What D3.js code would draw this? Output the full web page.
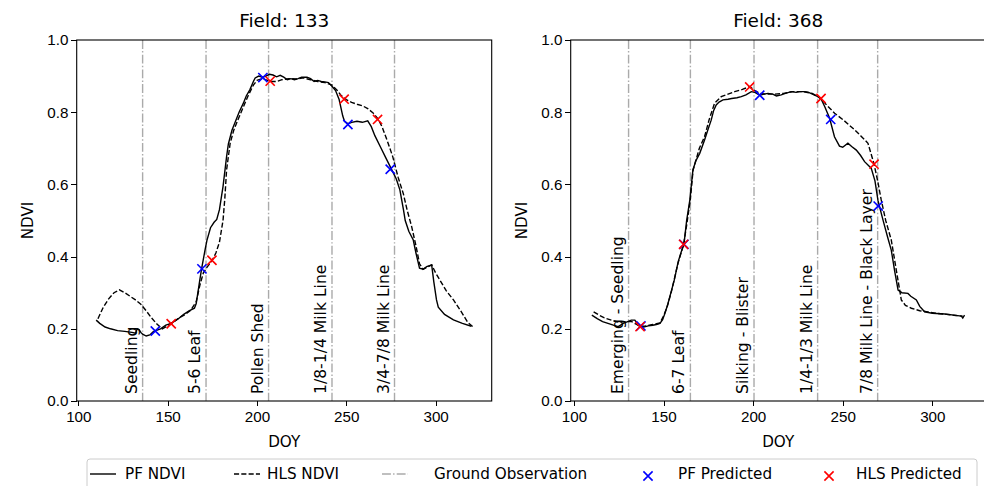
<!DOCTYPE html>
<html>
  <head>
    <meta charset="utf-8">
    <title>NDVI by field</title>
    <script src="https://d3js.org/d3.v7.min.js"></script>
    <style>
      body { margin: 0; background: #fff; }
      svg { font-family: "DejaVu Sans", sans-serif; }
      .axis path, .axis line { stroke: #000; shape-rendering: crispEdges; }
      .axis text { font-size: 15.2px; fill: #000; }
    </style>
  </head>
  <body>
    <svg id="chart" width="984" height="486"></svg>
    <script>
      // ---- data: [DOY, NDVI]
      const pf133 = [
        [110,0.224],[112,0.215],[115,0.205],[118,0.2],[122,0.195],[126,0.193],[130,0.19],[132,0.188],
        [133,0.2],[134,0.198],[135,0.19],[136,0.185],[138,0.18],[140,0.183],[142,0.192],[143,0.194],
        [146,0.2],[149,0.21],[152,0.215],[156,0.228],[159,0.24],[162,0.25],[165,0.257],[166,0.27],
        [168,0.335],[169,0.366],[171,0.42],[172,0.445],[174,0.48],[176,0.495],[177.5,0.503],[179,0.53],
        [181,0.594],[183,0.677],[184,0.712],[186,0.75],[188,0.775],[190,0.8],[192.4,0.825],[194,0.845],
        [196,0.862],[198,0.885],[199,0.895],[201,0.9],[203,0.897],[205,0.9],[207,0.905],[209,0.903],
        [211,0.898],[213,0.902],[215,0.897],[217,0.89],[219,0.893],[221,0.89],[223,0.893],[225,0.897],
        [228,0.897],[230,0.893],[232,0.885],[234,0.888],[236,0.885],[238,0.884],[240,0.882],[242,0.872],
        [244,0.86],[246,0.835],[248,0.79],[249,0.775],[251,0.768],[253,0.772],[256,0.775],[259,0.772],
        [262,0.776],[264,0.76],[266,0.735],[269,0.705],[272,0.675],[275,0.645],[278,0.615],[280,0.585],
        [282,0.53],[283,0.5],[285,0.47],[287.5,0.446],[289,0.41],[291,0.368],[293,0.365],[295,0.372],
        [297.8,0.377],[299,0.33],[300.5,0.28],[301.5,0.26],[305,0.24],[310,0.225],[315,0.215],[320,0.207]
      ];
      const hls133 = [
        [111,0.228],[114,0.26],[117,0.283],[120,0.3],[123,0.308],[126,0.3],[129,0.29],[132,0.28],
        [135,0.268],[138,0.25],[141,0.23],[144,0.213],[147,0.2],[150,0.208],[153,0.218],[157,0.232],
        [160,0.24],[163,0.252],[166,0.275],[168,0.32],[170,0.355],[172,0.37],[175,0.39],[177,0.41],
        [179,0.44],[180,0.47],[181,0.5],[182,0.56],[183,0.64],[185,0.714],[187,0.75],[189,0.775],
        [192,0.81],[195,0.845],[198,0.875],[200,0.888],[203,0.893],[206,0.888],[208,0.885],[211,0.885],
        [214,0.89],[218,0.893],[222,0.892],[226,0.895],[230,0.89],[234,0.885],[238,0.882],[242,0.875],
        [245,0.86],[247,0.847],[250,0.835],[253,0.827],[256,0.822],[259,0.818],[262,0.81],[265,0.798],
        [268,0.78],[270,0.76],[273,0.72],[276,0.677],[279,0.62],[282,0.573],[284,0.53],[286.6,0.483],
        [289,0.43],[291,0.38],[293,0.365],[295,0.37],[297.8,0.377],[300,0.355],[302.4,0.335],[306,0.305],
        [310,0.28],[314,0.25],[318,0.218],[321,0.205]
      ];
      const pf368 = [
        [110,0.238],[113,0.228],[116,0.22],[119,0.215],[122,0.21],[124.7,0.206],[126,0.21],[127.5,0.215],
        [130,0.22],[132,0.224],[134,0.224],[136,0.21],[137.4,0.207],[139,0.205],[141.5,0.208],[144,0.21],
        [146,0.212],[148,0.215],[149.5,0.225],[150.8,0.243],[152.5,0.27],[154.5,0.307],[156,0.335],[158.2,0.386],
        [160,0.415],[161.4,0.434],[162.9,0.5],[164.7,0.557],[166.4,0.64],[168,0.665],[170.2,0.686],[172.9,0.723],
        [175,0.755],[176.6,0.778],[178,0.805],[179.4,0.82],[181,0.828],[183.2,0.834],[186,0.836],[188,0.838],
        [191,0.84],[193.4,0.843],[196,0.848],[199,0.857],[201,0.855],[203.7,0.847],[206,0.85],[208.3,0.852],
        [211,0.85],[213,0.845],[215.7,0.848],[218,0.852],[221.3,0.857],[224,0.855],[226,0.857],[228.8,0.857],
        [231,0.855],[234,0.848],[236.2,0.843],[238,0.836],[240,0.815],[242.7,0.783],[245.4,0.732],[248.2,0.706],
        [250,0.703],[252.9,0.714],[255,0.705],[257.6,0.695],[260,0.68],[262.2,0.663],[265.9,0.645],[268,0.61],
        [269.7,0.555],[272.5,0.501],[275,0.455],[277.1,0.418],[279,0.36],[280.9,0.307],[283,0.3],[286.4,0.298],
        [288,0.29],[291.1,0.28],[293,0.262],[295.7,0.247],[300,0.243],[306.9,0.241],[312,0.238],[316.2,0.235],
        [317,0.23],[318,0.238]
      ];
      const hls368 = [
        [111,0.247],[114,0.238],[117,0.23],[121,0.224],[125,0.218],[128,0.22],[132.2,0.22],[135,0.212],
        [137,0.206],[140,0.208],[144,0.212],[148,0.216],[150,0.235],[152,0.26],[154.5,0.305],[158,0.38],
        [161.2,0.434],[163,0.49],[165,0.56],[166.5,0.64],[170,0.7],[172.9,0.732],[175.5,0.78],[178.5,0.825],
        [182.2,0.843],[186,0.85],[189.7,0.857],[194,0.863],[198.1,0.871],[201,0.86],[203.6,0.852],[207,0.85],
        [212,0.85],[217,0.852],[222,0.857],[228,0.857],[233,0.852],[237.9,0.838],[241,0.82],[245.5,0.797],
        [250,0.78],[256.7,0.751],[260,0.735],[264.1,0.714],[267.4,0.658],[269.5,0.61],[271.5,0.557],[274,0.5],
        [277.1,0.446],[280,0.36],[282.7,0.28],[285,0.265],[288.3,0.257],[293,0.25],[297.6,0.247],[302,0.243],
        [308,0.24],[313,0.237],[317,0.235]
      ];

      const pfPred133 = [[143.1,0.194],[169.2,0.366],[203.3,0.896],[250.9,0.766],[274.6,0.642]];
      const hlsPred133 = [[152,0.214],[174.8,0.39],[207.4,0.886],[248.8,0.836],[267.5,0.78]];
      const pfPred368 = [[137.4,0.208],[161.4,0.434],[203.7,0.847],[243.3,0.78],[269.8,0.54]];
      const hlsPred368 = [[136.9,0.206],[161.2,0.434],[198.1,0.87],[237.9,0.838],[267.5,0.656]];

      const stages133 = ["Seedling", "5-6 Leaf", "Pollen Shed", "1/8-1/4 Milk Line", "3/4-7/8 Milk Line"];
      const stageDoy133 = [136, 171.5, 206.5, 242, 277];
      const stages368 = ["Emerging - Seedling", "6-7 Leaf", "Silking - Blister", "1/4-1/3 Milk Line", "7/8 Milk Line - Black Layer"];
      const stageDoy368 = [130.5, 165, 200.5, 236, 269.5];

      const xTicks = [100, 150, 200, 250, 300];
      const yTicks = [0.0, 0.2, 0.4, 0.6, 0.8, 1.0];

      const svg = d3.select("#chart");
      const plotTop = 40, plotBottom = 401;
      const cross = "M-4.6,-4.6L4.6,4.6M-4.6,4.6L4.6,-4.6";

      function drawPanel(opt) {
        const g = svg.append("g");
        const x = d3.scaleLinear().domain(opt.xDomain).range([opt.left, opt.right]);
        const y = d3.scaleLinear().domain([0, 1]).range([plotBottom, plotTop]);

        // ground observation lines + stage names
        opt.stageDoy.forEach((d, i) => {
          g.append("line")
            .attr("x1", x(d)).attr("x2", x(d))
            .attr("y1", plotTop).attr("y2", plotBottom)
            .attr("stroke", "#aaaaaa").attr("stroke-width", 1.4)
            .attr("stroke-dasharray", "8.9,2.2,1.4,2.2");
          g.append("text")
            .attr("transform", "translate(" + (x(d) - 6) + "," + (plotBottom - 7) + ") rotate(-90)")
            .attr("font-size", "15.6px")
            .text(opt.stages[i]);
        });

        const line = d3.line().x(d => x(d[0])).y(d => y(d[1]));
        g.append("path").datum(opt.pf)
          .attr("fill", "none").attr("stroke", "#000").attr("stroke-width", 1.4)
          .attr("d", line);
        g.append("path").datum(opt.hls)
          .attr("fill", "none").attr("stroke", "#000").attr("stroke-width", 1.4)
          .attr("stroke-dasharray", "5.1,2.2")
          .attr("d", line);

        [[opt.pfPred, "#0000ff"], [opt.hlsPred, "#ff0000"]].forEach(([pts, c]) => {
          g.selectAll(null).data(pts).enter().append("path")
            .attr("d", cross)
            .attr("transform", d => "translate(" + x(d[0]) + "," + y(d[1]) + ")")
            .attr("stroke", c).attr("stroke-width", 1.6).attr("fill", "none");
        });

        // axes
        g.append("g").attr("class", "axis")
          .attr("transform", "translate(0," + plotBottom + ")")
          .call(d3.axisBottom(x).tickValues(xTicks).tickSize(5.3).tickSizeOuter(0).tickPadding(4.5))
          .call(a => a.select(".domain").remove());
        g.append("g").attr("class", "axis")
          .attr("transform", "translate(" + opt.left + ",0)")
          .call(d3.axisLeft(y).tickValues(yTicks).tickFormat(d3.format(".1f")).tickSize(5.3).tickSizeOuter(0).tickPadding(3))
          .call(a => a.select(".domain").remove());

        g.append("rect")
          .attr("x", opt.left).attr("y", plotTop)
          .attr("width", opt.right - opt.left).attr("height", plotBottom - plotTop)
          .attr("fill", "none").attr("stroke", "#000").attr("stroke-width", 1.1);

        g.append("text")
          .attr("x", (opt.left + opt.right) / 2).attr("y", 27)
          .attr("text-anchor", "middle").attr("font-size", "18.5px")
          .text(opt.title);
        g.append("text")
          .attr("x", (opt.left + opt.right) / 2).attr("y", 447)
          .attr("text-anchor", "middle").attr("font-size", "15.2px")
          .text("DOY");
        g.append("text")
          .attr("transform", "translate(" + (opt.left - 44) + "," + ((plotTop + plotBottom) / 2) + ") rotate(-90)")
          .attr("text-anchor", "middle").attr("font-size", "15.2px")
          .text("NDVI");
      }

      drawPanel({
        title: "Field: 133", left: 76.7, right: 491.7, xDomain: [99.1, 331.4],
        pf: pf133, hls: hls133, pfPred: pfPred133, hlsPred: hlsPred133,
        stages: stages133, stageDoy: stageDoy133
      });
      drawPanel({
        title: "Field: 368", left: 570.7, right: 985.7, xDomain: [98.2, 329.8],
        pf: pf368, hls: hls368, pfPred: pfPred368, hlsPred: hlsPred368,
        stages: stages368, stageDoy: stageDoy368
      });

      // legend
      const lg = svg.append("g");
      lg.append("rect")
        .attr("x", 87).attr("y", 459).attr("width", 890).attr("height", 32).attr("rx", 3)
        .attr("fill", "#fff").attr("stroke", "#cccccc");
      const ly = 474;
      const legendItems = [
        { label: "PF NDVI", x0: 90, tx: 125, type: "line", dash: null, color: "#000" },
        { label: "HLS NDVI", x0: 234, tx: 267, type: "line", dash: "5.1,2.2", color: "#000" },
        { label: "Ground Observation", x0: 382, tx: 434, type: "line", dash: "8.9,2.2,1.4,2.2", color: "#aaaaaa" },
        { label: "PF Predicted", x0: 648, tx: 678, type: "mark", color: "#0000ff" },
        { label: "HLS Predicted", x0: 829, tx: 856, type: "mark", color: "#ff0000" }
      ];
      legendItems.forEach(it => {
        if (it.type === "line") {
          lg.append("line").attr("x1", it.x0).attr("x2", it.x0 + 26)
            .attr("y1", ly).attr("y2", ly)
            .attr("stroke", it.color).attr("stroke-width", 1.4)
            .attr("stroke-dasharray", it.dash);
        } else {
          lg.append("path").attr("d", cross)
            .attr("transform", "translate(" + it.x0 + "," + (ly + 2) + ")")
            .attr("stroke", it.color).attr("stroke-width", 1.6);
        }
        lg.append("text").attr("x", it.tx).attr("y", ly).attr("dy", "0.35em")
          .attr("font-size", "15.2px").text(it.label);
      });
    </script>
  </body>
</html>
